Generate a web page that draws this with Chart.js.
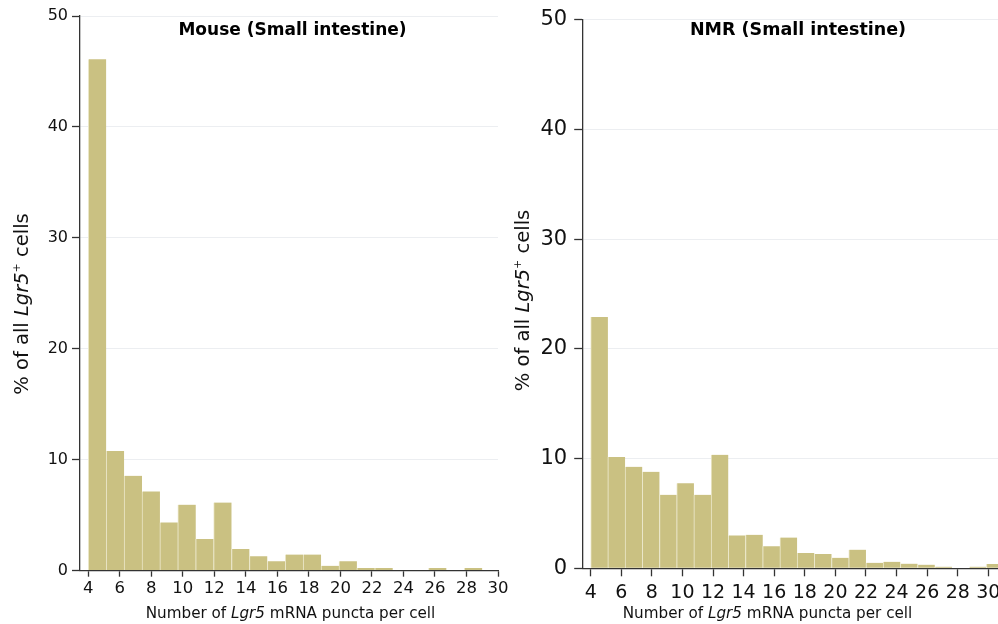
<!DOCTYPE html>
<html>
<head>
<meta charset="utf-8">
<script src="https://cdn.jsdelivr.net/npm/chart.js@4.4.1/dist/chart.umd.min.js"></script>
<style>
  html, body { margin: 0; padding: 0; background: #fff; }
  body { width: 998px; height: 624px; overflow: hidden; position: relative; }
  canvas { position: absolute; top: 0; }
</style>
</head>
<body>
<canvas id="mouse" width="520" height="624" style="left:0"></canvas>
<canvas id="nmr" width="520" height="624" style="left:500px"></canvas>
<script>
// ---------- data ----------
const mouseBinCenters = [4.568, 5.705, 6.841, 7.977, 9.114, 10.250, 11.386, 12.523, 13.659, 14.795, 15.932,
                         17.068, 18.205, 19.341, 20.477, 21.614, 22.750, 23.886, 25.023, 26.159, 27.295, 28.432];
const mouseValues     = [46.1, 10.8, 8.55, 7.15, 4.35, 5.95, 2.85, 6.15, 1.95, 1.3, 0.85,
                         1.45, 1.45, 0.45, 0.85, 0.25, 0.25, 0, 0, 0.25, 0, 0.25];
const nmrBinCenters   = [4.5625, 5.6875, 6.8125, 7.9375, 9.0625, 10.1875, 11.3125, 12.4375, 13.5625, 14.6875,
                         15.8125, 16.9375, 18.0625, 19.1875, 20.3125, 21.4375, 22.5625, 23.6875, 24.8125,
                         25.9375, 27.0625, 28.1875, 29.3125, 30.4375];
const nmrValues       = [22.9, 10.15, 9.25, 8.8, 6.7, 7.75, 6.7, 10.35, 3.0, 3.05, 2.0, 2.8, 1.4, 1.3,
                         0.95, 1.7, 0.5, 0.6, 0.42, 0.33, 0.15, 0, 0.15, 0.4];
const xTickValues = [4, 6, 8, 10, 12, 14, 16, 18, 20, 22, 24, 26, 28, 30];
const yTickValues = [0, 10, 20, 30, 40, 50];
const mouseTitle = 'Mouse (Small intestine)';
const nmrTitle = 'NMR (Small intestine)';
const xTitleParts = [['Number of ', ''], ['Lgr5', 'italic'], [' mRNA puncta per cell', '']];
const yTitleParts = [['% of all ', ''], ['Lgr5', 'italic'], ['+', 'sup'], [' cells', '']];

// ---------- helpers ----------
const FAMILY = "'DejaVu Sans', 'Liberation Sans', sans-serif";
const BAR_FILL = '#cac182';
const BAR_EDGE = '#ebe7c9';
const AXIS = '#333333';
const GRID = '#eceef1';

function drawRich(ctx, parts, size, x, y, angle) {
  ctx.save();
  ctx.translate(x, y);
  ctx.rotate(angle);
  ctx.textAlign = 'left';
  ctx.textBaseline = 'alphabetic';
  ctx.fillStyle = '#111';
  const segs = parts.map(([t, st]) => {
    let font, dy = 0;
    if (st === 'italic') font = `italic ${size}px ${FAMILY}`;
    else if (st === 'sup') { font = `${Math.round(size * 0.58)}px ${FAMILY}`; dy = -size * 0.42; }
    else font = `${size}px ${FAMILY}`;
    ctx.font = font;
    return { t, font, dy, w: ctx.measureText(t).width };
  });
  const total = segs.reduce((a, s) => a + s.w, 0);
  let cx = -total / 2;
  segs.forEach(s => { ctx.font = s.font; ctx.fillText(s.t, cx, s.dy); cx += s.w; });
  ctx.restore();
}

function makeChart(id, centers, values, title, st) {
  const textPlugin = {
    id: 'texts' + id,
    afterDraw(chart) {
      const ctx = chart.ctx;
      ctx.save();
      ctx.fillStyle = '#000';
      ctx.font = `bold ${st.titleSize}px ${FAMILY}`;
      ctx.textAlign = 'center';
      ctx.textBaseline = 'alphabetic';
      ctx.fillText(title, st.titleX, st.titleY);
      ctx.restore();
      drawRich(ctx, xTitleParts, st.xTitleSize, st.xTitleX, st.xTitleY, 0);
      drawRich(ctx, yTitleParts, st.yTitleSize, st.yTitleX, st.yTitleY, -Math.PI / 2);
    }
  };
  return new Chart(document.getElementById(id), {
    type: 'bar',
    data: {
      datasets: [{
        data: centers.map((c, i) => ({ x: c, y: values[i] })),
        backgroundColor: BAR_FILL,
        borderColor: BAR_EDGE,
        borderWidth: { left: 1, right: 0, top: 0, bottom: 0 },
        borderSkipped: false,
        barPercentage: 1,
        categoryPercentage: 1
      }]
    },
    options: {
      responsive: false,
      devicePixelRatio: 1,
      animation: false,
      events: [],
      layout: { padding: { left: 0, top: st.top, right: st.right, bottom: 0 } },
      plugins: { legend: { display: false }, title: { display: false }, tooltip: { enabled: false } },
      scales: {
        x: {
          type: 'linear',
          min: st.xmin, max: st.xmax,
          offset: false,
          afterFit: s => { s.height = 624 - st.bottom; },
          afterBuildTicks: s => { s.ticks = xTickValues.map(v => ({ value: v })); },
          grid: { offset: false, drawOnChartArea: false, drawTicks: true, tickLength: st.xTickLen,
                  tickColor: AXIS, tickWidth: 1.3 },
          border: { display: true, color: AXIS, width: 1.3, z: 1 },
          ticks: { autoSkip: false, maxRotation: 0, padding: st.xTickPad, color: '#111',
                   font: { family: FAMILY, size: st.xTickSize }, callback: v => String(v) }
        },
        y: {
          type: 'linear',
          min: 0, max: 50,
          afterFit: s => { s.width = st.left; },
          afterBuildTicks: s => { s.ticks = yTickValues.map(v => ({ value: v })); },
          grid: { color: GRID, lineWidth: 1, drawTicks: true, tickLength: st.yTickLen,
                  tickColor: AXIS, tickWidth: 1.3 },
          border: { display: true, color: AXIS, width: 1.3, z: 1 },
          ticks: { padding: st.yTickPad, color: '#111',
                   font: { family: FAMILY, size: st.yTickSize }, callback: v => String(v) }
        }
      }
    },
    plugins: [textPlugin]
  });
}

makeChart('mouse', mouseBinCenters, mouseValues, mouseTitle, {
  left: 80, right: 520 - 498, top: 16, bottom: 570.7,
  xmin: 3.473, xmax: 30,
  xTickLen: 6, xTickPad: 2, xTickSize: 16.5,
  yTickLen: 8, yTickPad: 4, yTickSize: 16,
  titleSize: 17, titleX: 292.5, titleY: 35,
  xTitleSize: 15.2, xTitleX: 290.5, xTitleY: 617.5,
  yTitleSize: 19.5, yTitleX: 28, yTitleY: 304
});

makeChart('nmr', nmrBinCenters, nmrValues, nmrTitle, {
  left: 82.7, right: 520 - 503.6, top: 15, bottom: 568.3,
  xmin: 3.477, xmax: 31,
  xTickLen: 8, xTickPad: 5, xTickSize: 19,
  yTickLen: 8.5, yTickPad: 7, yTickSize: 21,
  titleSize: 17.5, titleX: 298, titleY: 35,
  xTitleSize: 15.2, xTitleX: 267.5, xTitleY: 617.5,
  yTitleSize: 19.5, yTitleX: 29, yTitleY: 300.5
});
</script>
</body>
</html>
